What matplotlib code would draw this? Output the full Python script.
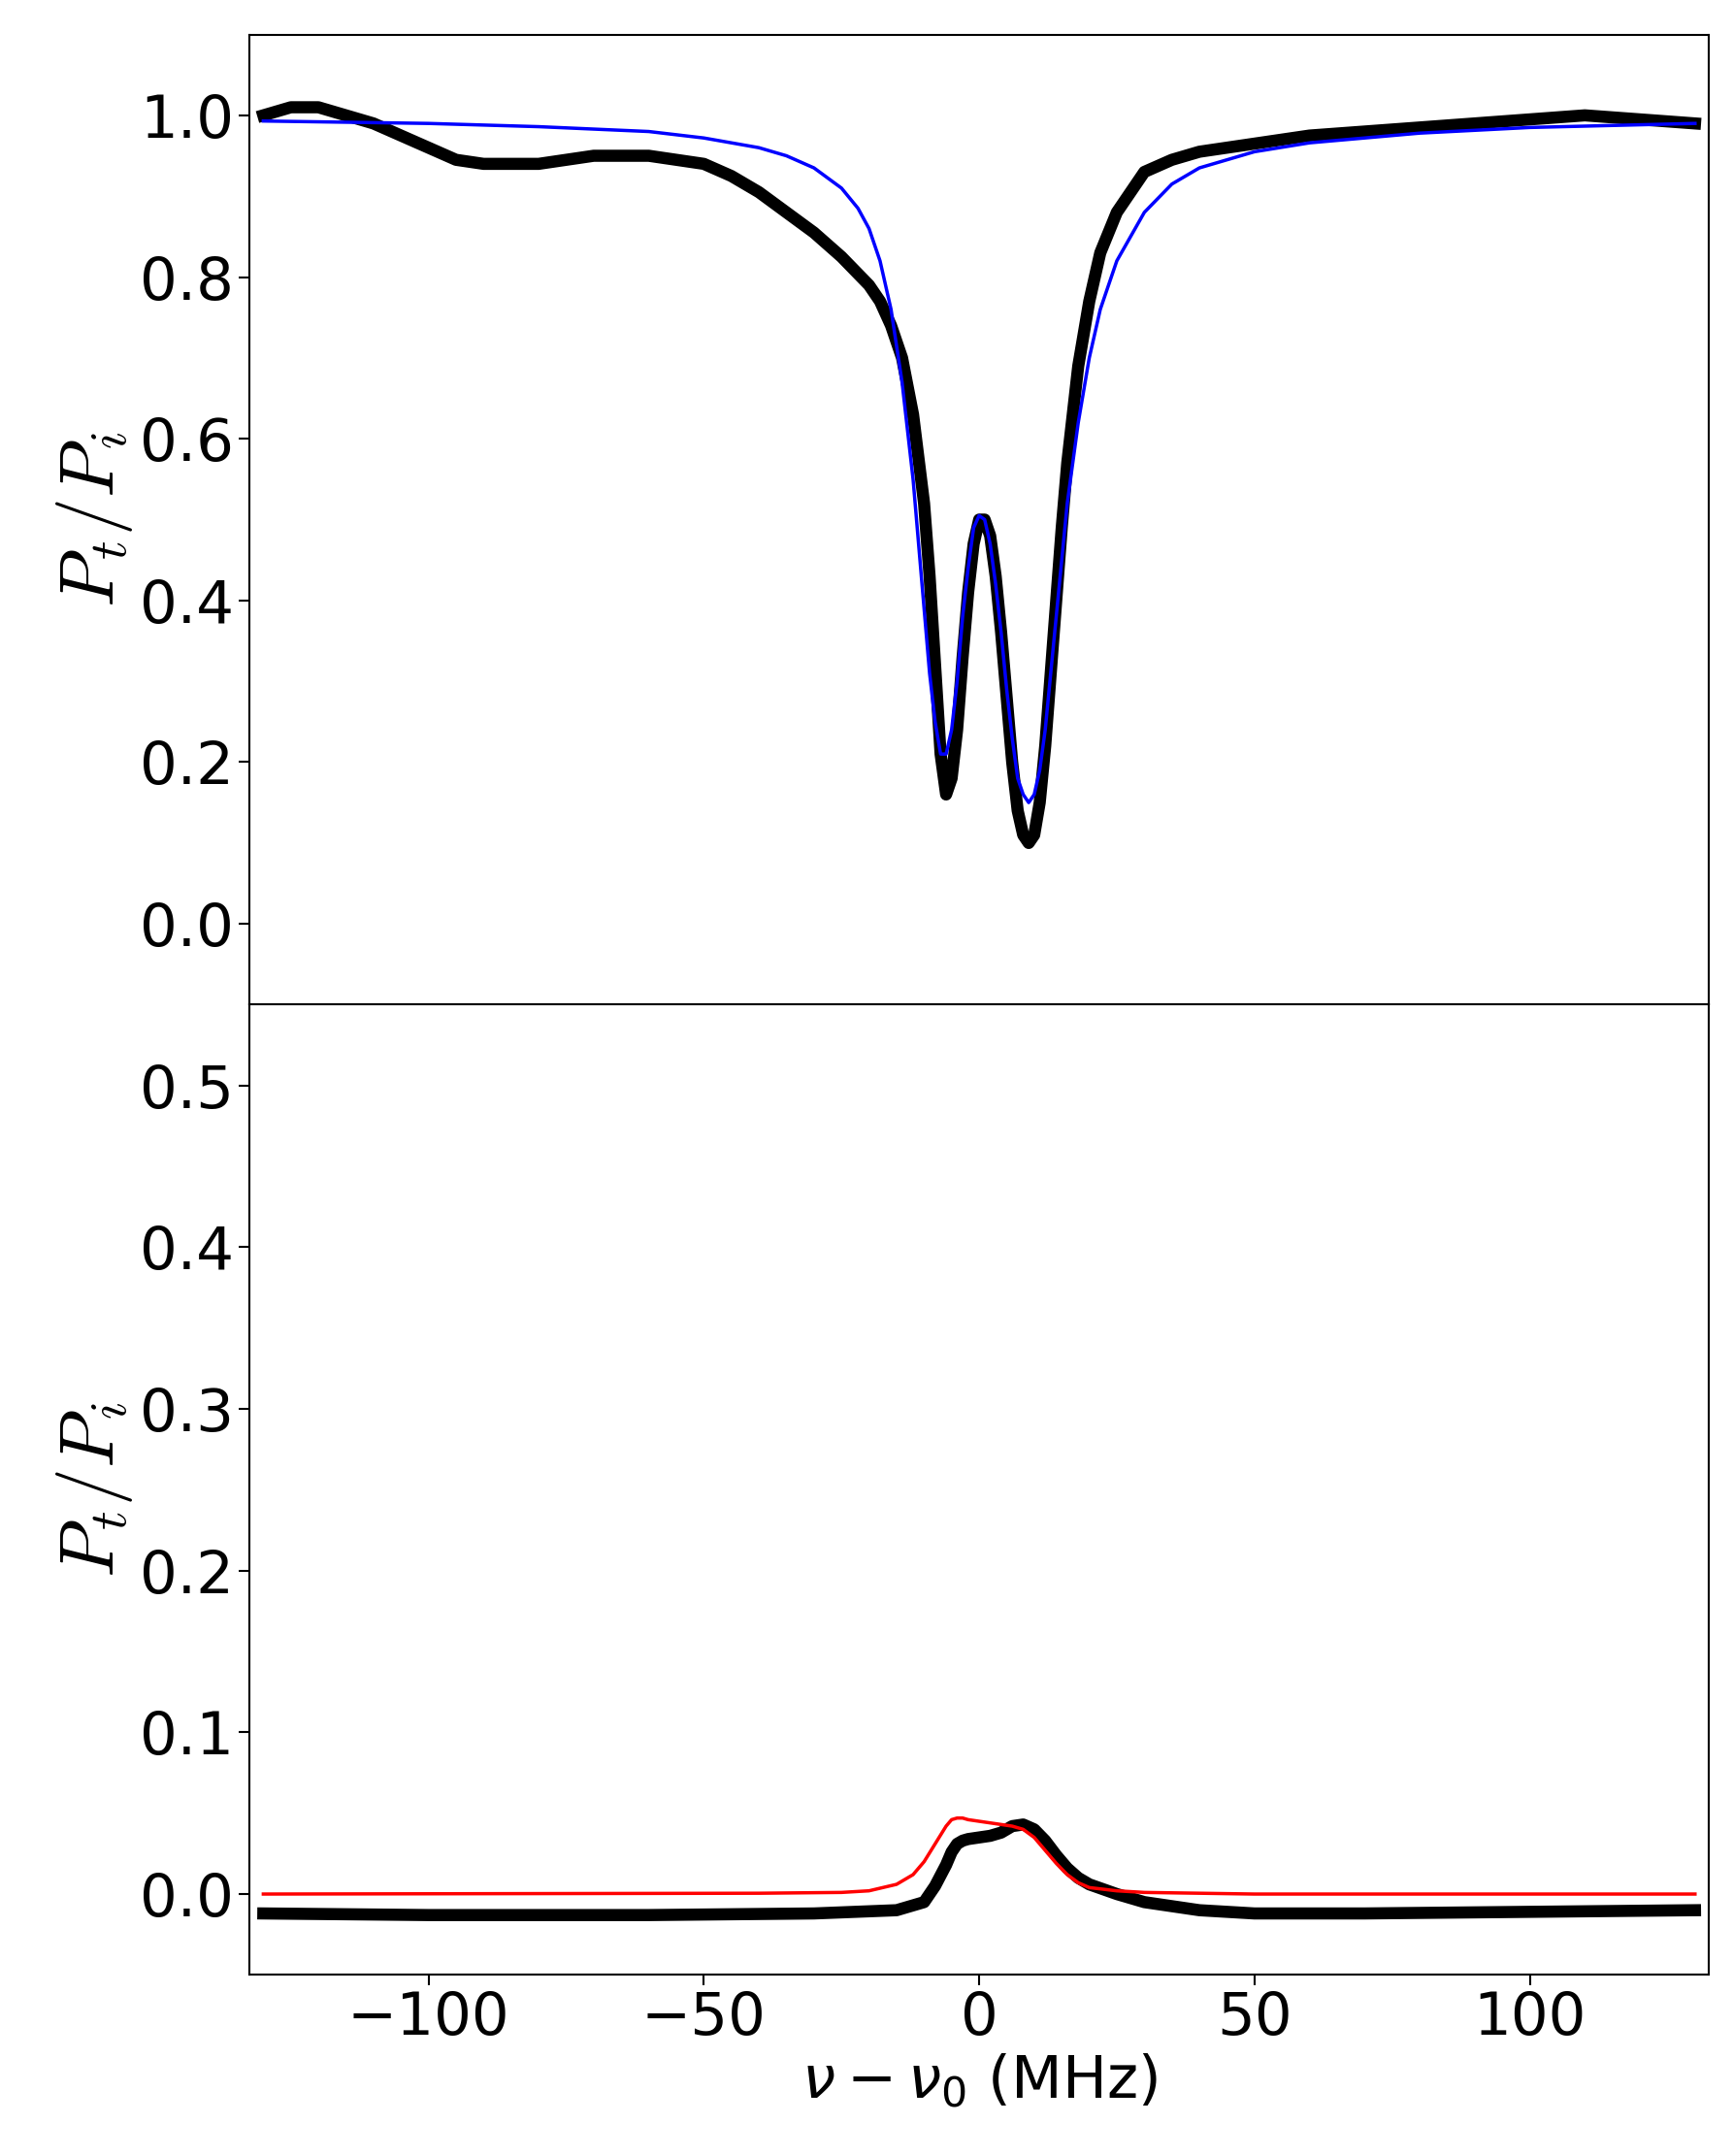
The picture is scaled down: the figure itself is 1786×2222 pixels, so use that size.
import matplotlib
matplotlib.use("Agg")
import matplotlib.pyplot as plt

# transmission data
top_x = [-130, -125, -120, -115, -110, -105, -100, -95, -90, -85, -80, -75, -70, -65, -60, -55, -50, -45, -40, -35, -30, -25, -20, -18, -16, -14, -12, -10, -9, -8, -7, -6, -5, -4, -3, -2, -1, 0, 1, 2, 3, 4, 5, 6, 7, 8, 9, 10, 11, 12, 13, 14, 15, 16, 18, 20, 22, 25, 28, 30, 35, 40, 50, 60, 70, 80, 90, 100, 110, 120, 130]
top_y = [1.0, 1.01, 1.01, 1.0, 0.99, 0.975, 0.96, 0.945, 0.94, 0.94, 0.94, 0.945, 0.95, 0.95, 0.95, 0.945, 0.94, 0.925, 0.905, 0.88, 0.855, 0.825, 0.79, 0.77, 0.74, 0.70, 0.63, 0.52, 0.43, 0.32, 0.21, 0.16, 0.18, 0.24, 0.33, 0.41, 0.47, 0.50, 0.50, 0.48, 0.43, 0.36, 0.28, 0.20, 0.14, 0.11, 0.10, 0.11, 0.15, 0.22, 0.31, 0.40, 0.49, 0.57, 0.69, 0.77, 0.83, 0.88, 0.91, 0.93, 0.945, 0.955, 0.965, 0.975, 0.98, 0.985, 0.99, 0.995, 1.0, 0.995, 0.99]
fit_top_x = [-130, -100, -80, -60, -50, -40, -35, -30, -25, -22, -20, -18, -16, -14, -12, -11, -10, -9, -8, -7, -6, -5, -4, -3, -2, -1, 0, 1, 2, 3, 4, 5, 6, 7, 8, 9, 10, 11, 12, 13, 14, 15, 16, 18, 20, 22, 25, 30, 35, 40, 50, 60, 80, 100, 130]
fit_top_y = [0.993, 0.99, 0.986, 0.98, 0.972, 0.96, 0.95, 0.935, 0.91, 0.885, 0.86, 0.82, 0.76, 0.67, 0.55, 0.47, 0.39, 0.31, 0.25, 0.21, 0.21, 0.24, 0.30, 0.38, 0.44, 0.49, 0.505, 0.50, 0.47, 0.42, 0.36, 0.29, 0.23, 0.18, 0.16, 0.15, 0.16, 0.19, 0.24, 0.31, 0.38, 0.45, 0.52, 0.62, 0.70, 0.76, 0.82, 0.88, 0.915, 0.935, 0.955, 0.966, 0.978, 0.985, 0.99]

bot_x = [-130, -100, -60, -30, -15, -10, -8, -6, -5, -4, -3, -2, 0, 2, 4, 6, 8, 10, 12, 14, 16, 18, 20, 25, 30, 40, 50, 70, 100, 130]
bot_y = [-0.012, -0.013, -0.013, -0.012, -0.01, -0.005, 0.005, 0.018, 0.026, 0.031, 0.033, 0.034, 0.035, 0.036, 0.038, 0.042, 0.043, 0.040, 0.033, 0.024, 0.016, 0.010, 0.006, 0.0, -0.005, -0.01, -0.012, -0.012, -0.011, -0.01]
fit_bot_x = [-130, -40, -25, -20, -15, -12, -10, -8, -6, -5, -4, -3, -2, 0, 2, 4, 6, 8, 10, 12, 14, 16, 18, 20, 25, 30, 50, 130]
fit_bot_y = [0.0, 0.0005, 0.001, 0.002, 0.006, 0.012, 0.020, 0.031, 0.042, 0.046, 0.047, 0.047, 0.046, 0.045, 0.044, 0.043, 0.042, 0.040, 0.035, 0.027, 0.019, 0.012, 0.007, 0.004, 0.002, 0.001, 0.0, 0.0]

fig = plt.figure(figsize=(17.86, 22.22), dpi=100)
ax1 = fig.add_axes([0.144, 0.534, 0.842, 0.45])
ax2 = fig.add_axes([0.144, 0.084, 0.842, 0.45], sharex=ax1)

ax1.plot(top_x, top_y, color='black', lw=9, marker='o', ms=5, solid_joinstyle='round')
ax1.plot(fit_top_x, fit_top_y, color='blue', lw=2.5)
ax2.plot(bot_x, bot_y, color='black', lw=9, marker='o', ms=5, solid_joinstyle='round')
ax2.plot(fit_bot_x, fit_bot_y, color='red', lw=2.5)

ax1.set_xlim(-132.5, 132.5)
ax1.set_ylim(-0.1, 1.1)
ax2.set_ylim(-0.05, 0.55)
ax1.set_yticks([0.0, 0.2, 0.4, 0.6, 0.8, 1.0])
ax2.set_yticks([0.0, 0.1, 0.2, 0.3, 0.4, 0.5])
ax2.set_xticks([-100, -50, 0, 50, 100])
ax1.tick_params(labelbottom=False, labelsize=44, length=8, width=1.5)
ax2.tick_params(labelsize=44, length=8, width=1.5)
for ax in (ax1, ax2):
    ax.set_ylabel(r'$P_t/P_i$', fontsize=56, math_fontfamily='cm')
    for s in ax.spines.values():
        s.set_linewidth(1.5)
ax2.set_xlabel(r'$\nu - \nu_0$ (MHz)', fontsize=44)

fig.savefig("out.png")
